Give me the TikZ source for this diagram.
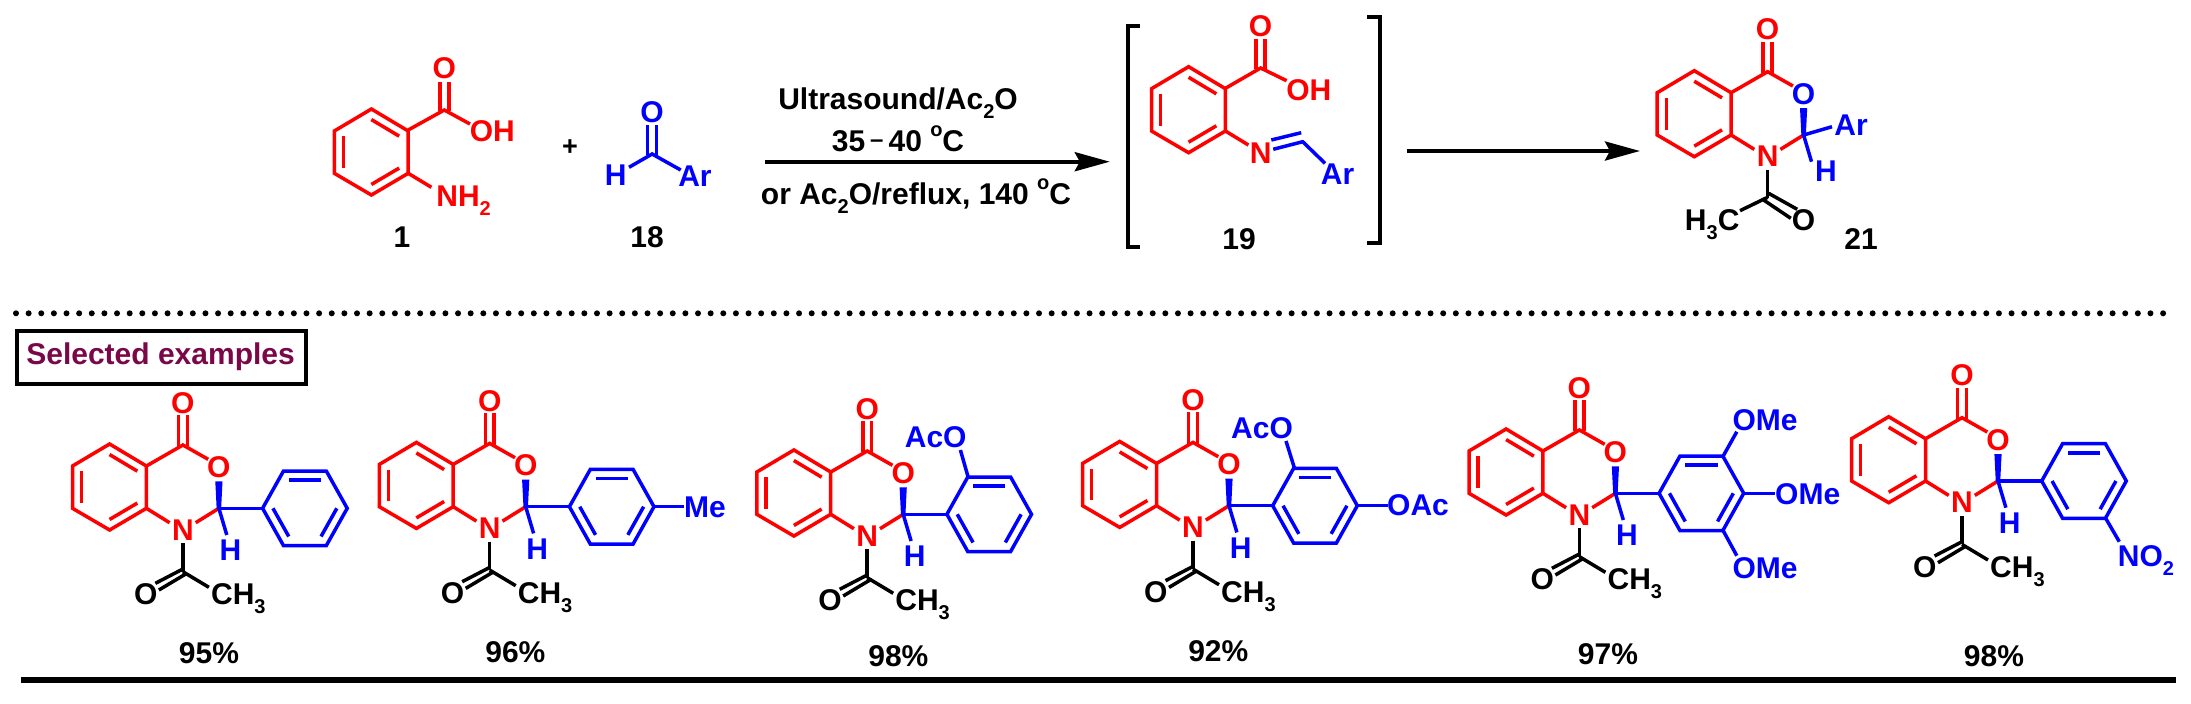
\documentclass[tikz,border=0pt]{standalone}
\usepackage{fontspec}
\setmainfont{Liberation Sans}
\usetikzlibrary{calc,arrows.meta}
\definecolor{maroon}{RGB}{122,8,72}
\newcommand{\sbs}[1]{\raisebox{-0.3em}{\fontsize{10}{10}\selectfont #1}}
\newcommand{\degO}{\raisebox{0.5em}{\fontsize{10}{10}\selectfont o}}
\tikzset{
  rd/.style={draw=red,line width=1.75pt},
  bl/.style={draw=blue,line width=1.75pt},
  bk/.style={draw=black,line width=1.75pt},
  lab/.style={font=\fontsize{15}{15}\selectfont\bfseries,inner sep=0pt,anchor=base,yshift=-5.37pt},
  labw/.style={lab,anchor=base west},
  labe/.style={lab,anchor=base east},
  rxn/.style={line width=2pt,-{Stealth[length=17.5pt,width=9.5pt,inset=2.5pt]}},
  brk/.style={line width=2pt,draw=black,miter limit=10},
  redtxt/.style={lab,text=red},
  bluetxt/.style={lab,text=blue},
  blacktxt/.style={lab,text=black}
}
% inner line of a double bond: from P to Q shifted toward ring centre C
\newcommand{\inl}[4]{\draw[#4] ($(#1)!.245!(#3)$)--($(#2)!.245!(#3)$);}
% fused benzene; origin is the atom C2 of the oxazine ring
\newcommand{\benz}{%
  \coordinate (rA) at (-146.4,-42.3);\coordinate (rB) at (-109.3,-64.3);
  \coordinate (rJ) at (-72.5,-42.3);\coordinate (rK) at (-72.5,0);
  \coordinate (rD) at (-109.3,21.7);\coordinate (rC) at (-146.4,0);
  \coordinate (rM) at (-109.45,-21.3);
  \draw[rd] (rA)--(rB)--(rJ)--(rK)--(rD)--(rC)--cycle;
  \inl{rB}{rJ}{rM}{rd}\inl{rK}{rD}{rM}{rd}\inl{rC}{rA}{rM}{rd}}
% benzoxazinone core; #1 colour style for ring O text
\newcommand{\core}[1]{%
  \benz
  \draw[rd] (rJ)--(-36,-63.3)--(-10.7,-49);
  \draw[rd] (rK)--(-49.3,14.4);
  \draw[rd] (-23.2,14.4)--(0,0);
  \draw[rd] (-40.4,-93.3)--(-40.4,-62);
  \draw[rd] (-31.6,-93.3)--(-31.6,-62);
  \node[redtxt] (oexo) at (-36,-106) {O};
  \node[#1] (oring) at (0,-41.6) {O};
  \node[redtxt] (nring) at (-36,21) {N};
  \fill[blue] (-3.6,-27)--(3.6,-27)--(2.2,1)--(-2.2,1)--cycle;
  \draw[bl] (0,0)--(7.9,26.7);
  \draw[bk] (-36,35)--(-36,63.4);
}
\newcommand{\hatm}[2]{\node[bluetxt] (hatom) at (#1,#2) {H};}
% product: core + acetyl to the right + aryl ring
\newcommand{\prodmol}[2]{%
  \begin{scope}[shift={(#1,#2)}]
  \core{redtxt}
  \hatm{11.6}{41.7}
  \draw[bk] (-36,63.4)--(-10,79);
  \draw[bk] (-36,60.7)--(-63.5,75);
  \draw[bk] (-33.2,65.7)--(-60,81.7);
  \node[blacktxt] (oac) at (-73.2,85.7) {O};
  \node[labw] (me) at (-8.2,85.7) {CH\sbs{3}};
  \coordinate (aL) at (43.7,0);\coordinate (aTL) at (64.6,-37.3);\coordinate (aTR) at (107.4,-37.3);
  \coordinate (aR) at (128.3,0);\coordinate (aBR) at (107.4,37.3);\coordinate (aBL) at (64.6,37.3);
  \coordinate (aM) at (86,0);
  \draw[bl] (0,0)--(aL);
  \draw[bl] (aL)--(aTL)--(aTR)--(aR)--(aBR)--(aBL)--cycle;
  \inl{aTL}{aTR}{aM}{bl}\inl{aL}{aBL}{aM}{bl}\inl{aR}{aBR}{aM}{bl}
  \end{scope}}
\begin{document}
\begin{tikzpicture}[x=0.5pt,y=-0.5pt]
\useasboundingbox (0,0) rectangle (2191,703);
% ---- compound 1
\begin{scope}[shift={(480.7,173.3)}]
  \benz
\end{scope}
\draw[rd] (408.2,130)--(444.3,110)--(470,124);
\draw[rd] (439.8,82)--(439.8,111);
\draw[rd] (448.8,82)--(448.8,111);
\draw[rd] (408.2,173.3)--(431.4,187.3);
\node[redtxt] (c1o) at (444.3,67.7) {O};
\node[redtxt] (c1oh) at (492.3,131) {OH};
\node[labw,text=red] (c1nh) at (436,195.5) {NH\sbs{2}};
\node[blacktxt] (c1) at (402,237) {1};
\node[blacktxt,font=\fontsize{13.5}{13.5}\selectfont\bfseries,yshift=0.5pt] (plus) at (570,146) {+};
% ---- compound 18
\draw[bl] (629,167.3)--(652.1,154)--(680.7,170);
\draw[bl] (647.6,125)--(647.6,155);
\draw[bl] (656.6,125)--(656.6,155);
\node[bluetxt] (c18o) at (652.1,111.7) {O};
\node[bluetxt] (c18h) at (615.7,175) {H};
\node[bluetxt] (c18ar) at (695,175.7) {Ar};
\node[blacktxt] (c18) at (647,237) {18};
% ---- reaction arrow and conditions
\coordinate (a1s) at (765,161.7);\coordinate (a1e) at (1109.8,161.7);
\draw[rxn] (a1s)--(a1e);
\node[blacktxt] (t1) at (898,99) {Ultrasound/Ac\sbs{2}O};
\node[blacktxt] (t2) at (898,140.7) {35\,\raisebox{0.12em}{\fontsize{12}{12}\selectfont –}\,40 \degO C};
\node[blacktxt] (t3) at (916,194) {or Ac\sbs{2}O/reflux, 140 \degO C};
% ---- brackets
\draw[brk] (1140,26)--(1127.5,26)--(1127.5,246.7)--(1140,246.7);
\draw[brk] (1367,16.7)--(1379.5,16.7)--(1379.5,243.3)--(1367,243.3);
% ---- compound 19
\begin{scope}[shift={(1297.9,131)}]
  \benz
\end{scope}
\draw[rd] (1225.4,88.3)--(1260.6,68)--(1286.6,80.7);
\draw[rd] (1256.1,39)--(1256.1,69);
\draw[rd] (1265.1,39)--(1265.1,69);
\draw[rd] (1225.4,131)--(1248.4,145);
\node[redtxt] (c19o) at (1260.6,25.7) {O};
\node[redtxt] (c19oh) at (1308.8,89.3) {OH};
\node[redtxt] (c19n) at (1260.6,152.7) {N};
\draw[bl] (1271.3,140)--(1301.2,132.7);
\draw[bl] (1273.2,149.3)--(1302.7,141.7)--(1325,163.3);
\node[bluetxt] (c19ar) at (1337.6,173.3) {Ar};
\node[blacktxt] (c19) at (1239,238.3) {19};
% ---- second arrow
\coordinate (a2s) at (1407.3,151);\coordinate (a2e) at (1640,151);
\draw[rxn] (a2s)--(a2e);
% ---- compound 21
\begin{scope}[shift={(1803.6,135)}]
  \core{bluetxt}
  \hatm{22.4}{35.7}
  \draw[bl] (0,0)--(28.4,-8.3);
  \node[bluetxt] (ar21) at (47.4,-10.7) {Ar};
  \draw[bk] (-36,62.3)--(-63.6,75.7);
  \draw[bk] (-35,58.3)--(-6.4,74.3);
  \draw[bk] (-40,65)--(-12.8,83.3);
  \node[blacktxt] (o21) at (0,85) {O};
  \node[labe] (me21) at (-63.8,85) {H\sbs{3}C};
\end{scope}
\node[blacktxt] (c21) at (1861,238.3) {21};
% ---- separator
\draw[line width=3pt,dash pattern=on 0pt off 6.315pt,line cap=round] (16,313.3)--(2165,313.3);
\node[draw=black,line width=2pt,minimum width=144.5pt,minimum height=26.5pt,inner sep=0pt,anchor=north west] (box) at (14.5,329) {};
\node[lab,text=maroon] (boxt) at (160.6,353.3) {Selected examples};
% ---- products
\prodmol{218.9}{508.3}
\prodmol{525.7}{506.7}
\draw[bl] (654,506.7)--(684,506.7);
\node[bluetxt] (me2) at (705,506.7) {Me};
\prodmol{903.2}{514.3}
\draw[bl] (968.2,477.3)--(960.4,450);
\node[bluetxt] (aco3) at (935.7,436.7) {AcO};
\prodmol{1229}{505.7}
\draw[bl] (1294.4,468)--(1286,441);
\node[bluetxt] (aco4) at (1262,427.3) {AcO};
\draw[bl] (1357.4,505.7)--(1388,505.7);
\node[bluetxt] (oac4) at (1418,505) {OAc};
\prodmol{1615.4}{493.3}
\draw[bl] (1723.2,456)--(1736.8,431.7);
\draw[bl] (1744,493.3)--(1774.7,493.3);
\draw[bl] (1723.2,530.7)--(1736.8,555.7);
\node[bluetxt] (ome1) at (1765,420) {OMe};
\node[bluetxt] (ome2) at (1807.7,493.3) {OMe};
\node[bluetxt] (ome3) at (1765,567.3) {OMe};
\prodmol{1998}{481}
\draw[bl] (2105.7,518.3)--(2119.3,541.7);
\node[bluetxt] (no2) at (2146,555.7) {NO\sbs{2}};
% ---- yields
\node[blacktxt] (y1) at (209,652.7) {95\%};
\node[blacktxt] (y2) at (515.4,651.7) {96\%};
\node[blacktxt] (y3) at (898.4,655.7) {98\%};
\node[blacktxt] (y4) at (1218.3,650.7) {92\%};
\node[blacktxt] (y5) at (1608,653.3) {97\%};
\node[blacktxt] (y6) at (1994,656) {98\%};
% ---- bottom rule
\coordinate (r1) at (21,680);\coordinate (r2) at (2176,680);
\draw[line width=3pt] (r1)--(r2);
\end{tikzpicture}
\end{document}
